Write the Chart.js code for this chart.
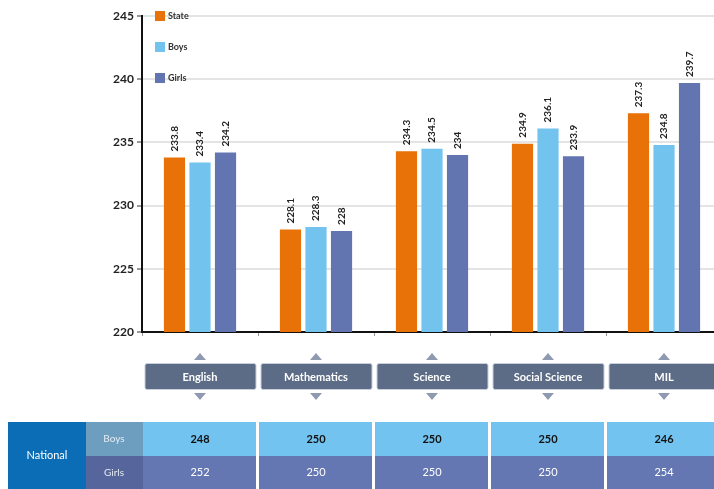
<!DOCTYPE html>
<html lang="en">
<head>
    <meta charset="utf-8" />
    <title>Average scores by subject</title>
    <script src="https://cdn.jsdelivr.net/npm/chart.js@4.4.1/dist/chart.umd.min.js"></script>
    <style>
        html, body {
            margin: 0;
            padding: 0;
            background: #ffffff;
            overflow: hidden;
        }
        #scoreChart {
            display: block;
        }
    </style>
</head>
<body>
    <canvas id="scoreChart" width="722" height="489"></canvas>

    <script type="text/JavaScript">
        // subjects and average scores
        var categories = ["English", "Mathematics", "Science", "Social Science", "MIL"];
        var stateScores = [233.8, 228.1, 234.3, 234.9, 237.3];
        var boysScores = [233.4, 228.3, 234.5, 236.1, 234.8];
        var girlsScores = [234.2, 228, 234, 233.9, 239.7];
        var yTicks = [220, 225, 230, 235, 240, 245];

        // national reference table under the chart
        var nationalBoys = [248, 250, 250, 250, 246];
        var nationalGirls = [252, 250, 250, 250, 254];

        var seriesNames = ["State", "Boys", "Girls"];
        var seriesColors = ["#e87207", "#72c4ef", "#6375b1"];
        var fontFamily = "Lato, 'Open Sans', sans-serif";

        // labels, legend, subject boxes and national table
        var extras = {
            id: "extras",
            afterDatasetsDraw: function (chart) {
                var ctx = chart.ctx;
                ctx.save();
                ctx.fillStyle = "#222";
                ctx.font = "bold 10px " + fontFamily;
                ctx.textAlign = "left";
                ctx.textBaseline = "middle";
                chart.data.datasets.forEach(function (ds, di) {
                    chart.getDatasetMeta(di).data.forEach(function (bar, i) {
                        ctx.save();
                        ctx.translate(bar.x, bar.y - 6);
                        ctx.rotate(-Math.PI / 2);
                        ctx.fillText(String(ds.data[i]), 0, 0);
                        ctx.restore();
                    });
                });
                ctx.restore();
            },
            afterDraw: function (chart) {
                var ctx = chart.ctx;
                var area = chart.chartArea;
                var x = chart.scales.x;
                var slot = (area.right - area.left) / categories.length;

                ctx.save();

                // legend, stacked vertically inside the plot
                ctx.font = "bold 9px " + fontFamily;
                ctx.textBaseline = "middle";
                ctx.textAlign = "left";
                seriesNames.forEach(function (name, i) {
                    var cy = 16 + i * 31;
                    ctx.fillStyle = seriesColors[i];
                    ctx.fillRect(155, cy - 5, 10, 10);
                    ctx.fillStyle = "#333";
                    ctx.fillText(name, 168, cy);
                });

                // subject boxes with small arrows
                categories.forEach(function (name, i) {
                    var cx = x.getPixelForValue(i);
                    var left = cx - slot / 2 + 3;
                    var w = slot - 5;
                    ctx.fillStyle = "#8e9ab0";
                    ctx.beginPath();
                    ctx.moveTo(cx - 6, 360);
                    ctx.lineTo(cx + 6, 360);
                    ctx.lineTo(cx, 353);
                    ctx.closePath();
                    ctx.fill();
                    ctx.beginPath();
                    ctx.moveTo(cx - 6, 393);
                    ctx.lineTo(cx + 6, 393);
                    ctx.lineTo(cx, 400);
                    ctx.closePath();
                    ctx.fill();

                    ctx.fillStyle = "#5c6b86";
                    ctx.strokeStyle = "#c9d0dc";
                    ctx.lineWidth = 1;
                    ctx.beginPath();
                    ctx.roundRect(left, 363.5, w, 26, 2);
                    ctx.fill();
                    ctx.stroke();

                    ctx.fillStyle = "#ffffff";
                    ctx.font = "bold 11px " + fontFamily;
                    ctx.textAlign = "center";
                    ctx.fillText(name, cx, 377);
                });

                // national table
                var top = 422, mid = 456, bottom = 489;
                ctx.fillStyle = "#0a6db5";
                ctx.fillRect(8, top, 78, bottom - top);
                ctx.fillStyle = "#6d9ec0";
                ctx.fillRect(86, top, area.left + 1 - 86, mid - top);
                ctx.fillStyle = "#56659b";
                ctx.fillRect(86, mid, area.left + 1 - 86, bottom - mid);

                ctx.textAlign = "center";
                ctx.font = "11px " + fontFamily;
                ctx.fillStyle = "#ffffff";
                ctx.fillText("National", 47, (top + bottom) / 2);
                ctx.font = "10px " + fontFamily;
                ctx.fillStyle = "#e4ebf2";
                ctx.fillText("Boys", 114, (top + mid) / 2);
                ctx.fillText("Girls", 114, (mid + bottom) / 2);

                categories.forEach(function (name, i) {
                    var cx = x.getPixelForValue(i);
                    var left = cx - slot / 2 + 1;
                    var w = slot - 3;
                    ctx.fillStyle = "#72c3f0";
                    ctx.fillRect(left, top, w, mid - top);
                    ctx.fillStyle = "#6577b2";
                    ctx.fillRect(left, mid, w, bottom - mid);

                    ctx.font = "bold 11px " + fontFamily;
                    ctx.fillStyle = "#111";
                    ctx.fillText(String(nationalBoys[i]), cx, (top + mid) / 2);
                    ctx.fillStyle = "#ffffff";
                    ctx.font = "11px " + fontFamily;
                    ctx.fillText(String(nationalGirls[i]), cx, (mid + bottom) / 2);
                });

                ctx.restore();
            }
        };

        var ctx = document.getElementById("scoreChart");
        var scoreChart = new Chart(ctx, {
            type: "bar",
            data: {
                labels: categories,
                datasets: [
                    { label: seriesNames[0], data: stateScores, backgroundColor: seriesColors[0] },
                    { label: seriesNames[1], data: boysScores, backgroundColor: seriesColors[1] },
                    { label: seriesNames[2], data: girlsScores, backgroundColor: seriesColors[2] }
                ]
            },
            options: {
                responsive: false,
                animation: false,
                categoryPercentage: 0.66,
                barPercentage: 0.83,
                layout: {
                    padding: { left: 0, right: 0, top: 16, bottom: 0 }
                },
                plugins: {
                    legend: { display: false },
                    tooltip: { enabled: false }
                },
                scales: {
                    x: {
                        border: { color: "#111", width: 2 },
                        grid: {
                            drawOnChartArea: false,
                            tickColor: "#999",
                            tickLength: 4
                        },
                        ticks: { display: false },
                        afterFit: function (scale) {
                            scale.height = 157;
                        }
                    },
                    y: {
                        min: 220,
                        max: 245,
                        afterBuildTicks: function (scale) {
                            scale.ticks = yTicks.map(function (v) { return { value: v }; });
                        },
                        afterFit: function (scale) {
                            scale.width = 142;
                        },
                        border: { color: "#111", width: 2 },
                        grid: {
                            color: "#e4e4e4",
                            lineWidth: 2,
                            tickColor: "#999",
                            tickLength: 5
                        },
                        ticks: {
                            padding: 3,
                            color: "#222",
                            font: { family: fontFamily, size: 12, weight: "bold" }
                        }
                    }
                }
            },
            plugins: [extras]
        });
    </script>
</body>
</html>
